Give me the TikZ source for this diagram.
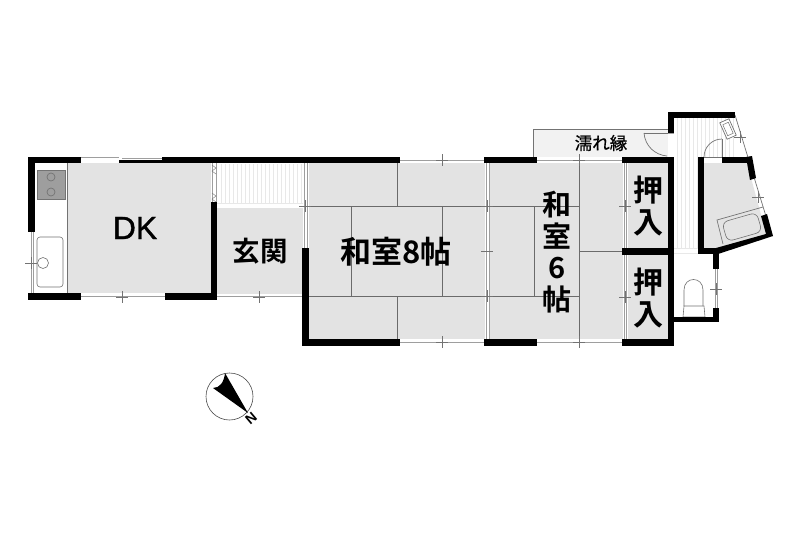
\documentclass[tikz,border=0pt]{standalone}
\usepackage{fontspec}
\setsansfont{Liberation Sans}
\newfontfamily\dkfont{Liberation Sans}[FakeBold=1.2]
\newfontfamily\jpfont{Noto Sans CJK JP}[FakeBold=0.6]
\newfontfamily\jpbold{Noto Sans CJK JP Bold}
\tikzset{
 floorgray/.style={fill=floorc,draw=none},
 wallblk/.style={fill=black,draw=none},
 tatami/.style={draw=tatc,line width=0.8pt},
 thin line/.style={draw=linec,line width=0.7pt},
 sash/.style={draw=sashc,line width=1pt},
 stripe/.style={draw=stripec,line width=0.5pt},
 roomlabel/.style={text=black,inner sep=0pt,align=center},
}
\definecolor{floorc}{gray}{0.89}
\definecolor{tatc}{gray}{0.42}
\definecolor{linec}{gray}{0.45}
\definecolor{sashc}{gray}{0.62}
\definecolor{stripec}{gray}{0.91}
\definecolor{stovec}{gray}{0.62}
\definecolor{deckc}{gray}{0.95}
\newcommand{\wallrect}[4]{\fill[wallblk] (#1,#2) rectangle (#3,#4);}
\newcommand{\crossmark}[2]{\draw[thin line] (#1-6,#2) -- (#1+6,#2) (#1,#2-6) -- (#1,#2+6);}
\begin{document}
\begin{tikzpicture}[x=1pt,y=-1pt]
\useasboundingbox (0,0) rectangle (800,533);
\fill[white] (0,0) rectangle (800,533);
% floors
\fill[floorgray] (67.5,163) rectangle (211,293);
\fill[floorgray] (217,208) rectangle (303,294);
\fill[floorgray] (309,163) rectangle (485,339);
\fill[floorgray] (490,163) rectangle (623,339);
\fill[floorgray] (628,163) rectangle (668,248);
\fill[floorgray] (628,255) rectangle (668,339);
\fill[floorgray] (704,163) -- (747,163) -- (767,237) -- (718,249) -- (704,249) -- cycle;
% wet deck
\fill[deckc] (533,129) rectangle (668,157);
\draw[thin line] (533,157) -- (533,129) -- (668,129);
\draw[thin line] (644,133) -- (668,133);
\draw[thin line] (644,133) .. controls (645,146) and (655,155) .. (667,156);
% entry step stripes
\foreach \x in {221,225,...,301} \draw[stripe] (\x,164) -- (\x,203);
\draw[stripec] (217,203.5) -- (303,203.5);
% hall stripes
\foreach \x in {677,681,...,697} \draw[stripe] (\x,118) -- (\x,248);
\foreach \x in {701,705,...,733} \draw[stripe] (\x,118) -- (\x,157);
\draw[stripe] (674,248) -- (698,248);
\draw[stripe] (674,253) -- (698,253);
% tatami lines room 8
\draw[tatami] (309,206) -- (485,206) (309,296) -- (485,296);
\draw[tatami] (397,163) -- (397,206) (397,296) -- (397,339);
\draw[tatami] (351,206) -- (351,296) (442,206) -- (442,296);
% tatami lines room 6
\draw[tatami] (490,206) -- (579,206) (490,296) -- (579,296);
\draw[tatami] (534,206) -- (534,296);
\draw[tatami] (579,154) -- (579,347);
\draw[tatami] (579,251) -- (623,251);
% sashes
\draw[sash] (81,157) -- (119,157) (122,158) -- (162,158);
\draw[sash] (81,296) -- (165,296) (217,296) -- (303,296);
\draw[sash] (400,160) -- (484,160) (400,342) -- (484,342);
\draw[sash] (537,160) -- (622,160) (537,342) -- (622,342);
\draw[sash] (486.5,163) -- (486.5,339) (489,163) -- (489,339);
\draw[sash] (624,163) -- (624,339) (626,163) -- (626,339);
\draw[sash] (304.5,163) -- (304.5,248) (307,163) -- (307,248);
\draw[sash] (212,163) -- (212,202) (216,163) -- (216,202);
\draw[sash] (31,232) -- (31,293) (33.5,232) -- (33.5,293);
% sash zigzags
\draw[linec,line width=0.4pt] (212,165) -- (216,168) -- (212,171) -- (216,174);
\draw[linec,line width=0.4pt] (212,193) -- (216,196) -- (212,199) -- (216,202);
% cross marks
\crossmark{122}{297}\crossmark{259}{297}\crossmark{31}{263}
\crossmark{305}{206}\crossmark{442}{160}\crossmark{442}{342}
\crossmark{579}{160}\crossmark{579}{342}
\crossmark{487}{206}\crossmark{487}{296}
\draw[thin line] (481,251) -- (493,251);
\crossmark{625}{206}\crossmark{625}{297}
% kitchen
\draw[thin line] (67.5,163) -- (67.5,293);
\fill[stovec,draw=linec,line width=0.5pt] (37,170) rectangle (65,199);
\draw[linec,line width=0.7pt] (51,177) circle[radius=4] (51,192) circle[radius=4];
\draw[linec,line width=0.6pt,rounded corners=3pt] (37,237) rectangle (63,287);
\draw[linec,line width=0.6pt,fill=white] (43,263) circle[radius=5.5];
% bath details
\draw[thin line] (735,115) -- (772,236);
\draw[thin line] (763,207) -- (717,220) -- (723,244);
\begin{scope}[shift={(742,227)},rotate=16]
\draw[linec,line width=0.6pt,rounded corners=6pt] (-18,-10) rectangle (18,10);
\end{scope}
\crossmark{740}{137}\crossmark{758}{197}
\begin{scope}[shift={(728,129)},rotate=24]
\draw[linec,line width=0.7pt,fill=white] (-5,-9) rectangle (5,9);
\draw[linec,line width=0.5pt] (-3,-6) rectangle (3,6);
\end{scope}
% bath door
\draw[thin line] (722,139) -- (722,157);
\draw[thin line] (722,139) .. controls (712,139) and (704,147) .. (704,157);
\draw[thin line] (704,157) -- (722,157);
% toilet
\draw[linec,line width=0.6pt] (684,306) -- (684,290) .. controls (684,276) and (703,276) .. (703,290) -- (703,306);
\draw[linec,line width=0.6pt] (684,306) -- (704,306) -- (705,317) -- (683,317) -- cycle;
\draw[sash] (715,269) -- (715,308) (717,269) -- (717,308);
\crossmark{716}{289}
\draw[sash] (668,133) -- (674,133) (668,157) -- (674,157);
% walls
\wallrect{28}{157}{81}{163}
\wallrect{28}{157}{35}{232}
\wallrect{28}{293}{81}{300}
\wallrect{119}{160}{162}{163}
\wallrect{162}{157}{400}{163}
\wallrect{211}{202}{217}{300}
\wallrect{165}{293}{217}{300}
\wallrect{302}{248}{309}{346}
\wallrect{302}{339}{400}{346}
\wallrect{484}{157}{537}{163}
\wallrect{484}{339}{537}{346}
\wallrect{622}{157}{674}{163}
\wallrect{622}{248}{674}{255}
\wallrect{622}{339}{674}{346}
\wallrect{668}{112}{735}{118}
\wallrect{668}{112}{674}{133}
\wallrect{668}{157}{674}{346}
\wallrect{668}{317}{719}{322}
\wallrect{698}{157}{704}{254}
\wallrect{698}{248}{719}{254}
\wallrect{713}{248}{719}{269}
\wallrect{713}{308}{719}{322}
\wallrect{722}{157}{750}{163}
\fill[wallblk] (746,157) -- (752,156) -- (756,178) -- (750,180) -- cycle;
\fill[wallblk] (761,216) -- (767,214) -- (773,236) -- (718,254) -- (716,248) -- (766,234) -- cycle;
% labels
\node[roomlabel,font=\dkfont\fontsize{32}{32}\selectfont] (dk) at (135,228) {DK};
\node[roomlabel,font=\jpbold\fontsize{27.5}{27.5}\selectfont] (genkan) at (260,251) {玄関};
\node[roomlabel,font=\jpbold\fontsize{31}{31}\selectfont] (room8) at (396,252) {和室8帖};
\node[roomlabel,font=\jpbold\fontsize{29}{31.5}\selectfont] (room6) at (557,252) {和\\室\\6\\帖};
\node[roomlabel,font=\jpbold\fontsize{30}{32}\selectfont] (closetA) at (648,206) {押\\入};
\node[roomlabel,font=\jpbold\fontsize{30}{32}\selectfont] (closetB) at (648,298) {押\\入};
\node[roomlabel,font=\jpfont\fontsize{17.5}{17.5}\selectfont] (deck) at (601,143) {濡れ縁};
% north arrow
\draw[black!70,line width=0.6pt] (229.5,396.5) circle[radius=23.5];
\fill[black] (225,373) -- (248,413) -- (213,388) .. controls (220,388) and (224,382) .. (225,373) -- cycle;
\node[font=\sffamily\bfseries\fontsize{14}{14}\selectfont,rotate=-140,inner sep=0pt] (north) at (251,418) {N};
\end{tikzpicture}
\end{document}
